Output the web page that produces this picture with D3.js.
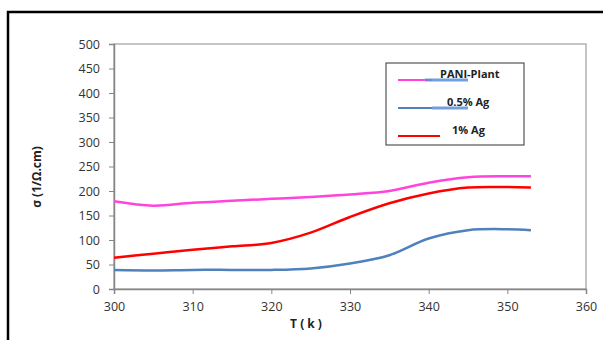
<!DOCTYPE html>
<html>
<head>
<meta charset="utf-8">
<script src="https://cdn.jsdelivr.net/npm/d3@7"></script>
<style>
  body { margin: 0; background: #fff; }
  svg { display: block; font-family: "Open Sans", "DejaVu Sans", sans-serif; }
</style>
</head>
<body>
<div id="chart"></div>
<script>
// temperatures (K) and conductivity values
var temps = [300, 305, 310, 315, 320, 325, 330, 335, 340, 345, 350, 353];
var pani = [179, 170, 176, 180, 184, 188, 193, 200, 217, 228, 230, 230];
var ag05 = [39, 38, 39, 39, 39, 42, 52, 69, 103, 120, 122, 120];
var ag1 = [64, 72, 80, 87, 94, 115, 147, 175, 195, 207, 208, 207];
var seriesNames = ["PANI-Plant", "0.5% Ag", "1% Ag"];
var seriesColors = ["#ff44dd", "#4f81bd", "#ff0000"];
var xTicks = [300, 310, 320, 330, 340, 350, 360];
var yTicks = [0, 50, 100, 150, 200, 250, 300, 350, 400, 450, 500];

var W = 603, H = 340;
var margin = {left: 114, top: 44, right: 17, bottom: 51};

var svg = d3.select("#chart").append("svg")
    .attr("width", W).attr("height", H);

// outer frame
svg.append("rect")
    .attr("x", 8).attr("y", 12)
    .attr("width", 640).attr("height", 400)
    .attr("fill", "#fff").attr("stroke", "#000").attr("stroke-width", 2.5);

var x = d3.scaleLinear().domain([300, 360]).range([margin.left, W - margin.right]);
var y = d3.scaleLinear().domain([0, 500]).range([H - margin.bottom, margin.top]);

// plot area border
svg.append("rect")
    .attr("x", x(300)).attr("y", y(500))
    .attr("width", x(360) - x(300)).attr("height", y(0) - y(500))
    .attr("fill", "none").attr("stroke", "#8c8c8c").attr("stroke-width", 1);

var gy = svg.append("g")
    .attr("transform", "translate(" + x(300) + ",0)")
    .call(d3.axisLeft(y).tickValues(yTicks).tickSize(5).tickPadding(9));
var gx = svg.append("g")
    .attr("transform", "translate(0," + y(0) + ")")
    .call(d3.axisBottom(x).tickValues(xTicks).tickSize(5).tickPadding(8));

[gx, gy].forEach(function (g) {
    g.select(".domain").attr("stroke", "#868686").attr("stroke-width", 1.5);
    g.selectAll(".tick line").attr("stroke", "#868686");
    g.selectAll("text").attr("fill", "#333").style("font-size", "12.5px")
        .style("font-family", "'Open Sans', sans-serif");
});

// axis titles
svg.append("text")
    .attr("transform", "translate(41,177) rotate(-90)")
    .attr("text-anchor", "middle")
    .style("font-size", "12px").style("font-weight", "bold").attr("fill", "#222")
    .text("σ (1/Ω.cm)");
svg.append("text")
    .attr("x", 306).attr("y", 328)
    .attr("text-anchor", "middle")
    .style("font-size", "12px").style("font-weight", "bold").attr("fill", "#222")
    .text("T ( k )");

// series lines
var line = d3.line()
    .x(function (d) { return x(d[0]); })
    .y(function (d) { return y(d[1]); })
    .curve(d3.curveCatmullRom.alpha(0.5));

[pani, ag05, ag1].forEach(function (vals, i) {
    svg.append("path")
        .datum(temps.map(function (t, j) { return [t, vals[j]]; }))
        .attr("d", line)
        .attr("fill", "none")
        .attr("stroke", seriesColors[i])
        .attr("stroke-width", 2.5);
});

// legend
svg.append("rect")
    .attr("x", 386).attr("y", 63).attr("width", 138).attr("height", 82)
    .attr("fill", "#fff").attr("stroke", "#333").attr("stroke-width", 1);

var legY = [80, 108, 136];
var lg = svg.append("g");
lg.selectAll("line.main")
    .data(seriesNames).enter().append("line")
    .attr("x1", 398).attr("x2", function (d, i) { return i === 2 ? 440 : 432; })
    .attr("y1", function (d, i) { return legY[i]; })
    .attr("y2", function (d, i) { return legY[i]; })
    .attr("stroke", function (d, i) { return seriesColors[i]; })
    .attr("stroke-width", 2);
// overlapping blue strokes behind the first two labels
lg.selectAll("line.extra")
    .data([0, 1]).enter().append("line")
    .attr("x1", function (d) { return d === 0 ? 425 : 432; })
    .attr("x2", 468)
    .attr("y1", function (d) { return legY[d]; })
    .attr("y2", function (d) { return legY[d]; })
    .attr("stroke", "#5b8fd9").attr("stroke-width", 3).attr("opacity", 0.85);
lg.selectAll("text")
    .data(seriesNames).enter().append("text")
    .attr("x", function (d, i) { return [440, 447, 452][i]; })
    .attr("y", function (d, i) { return legY[i] - 2; })
    .style("font-size", "11px").style("font-weight", "bold").attr("fill", "#222")
    .text(function (d) { return d; });
</script>
</body>
</html>
